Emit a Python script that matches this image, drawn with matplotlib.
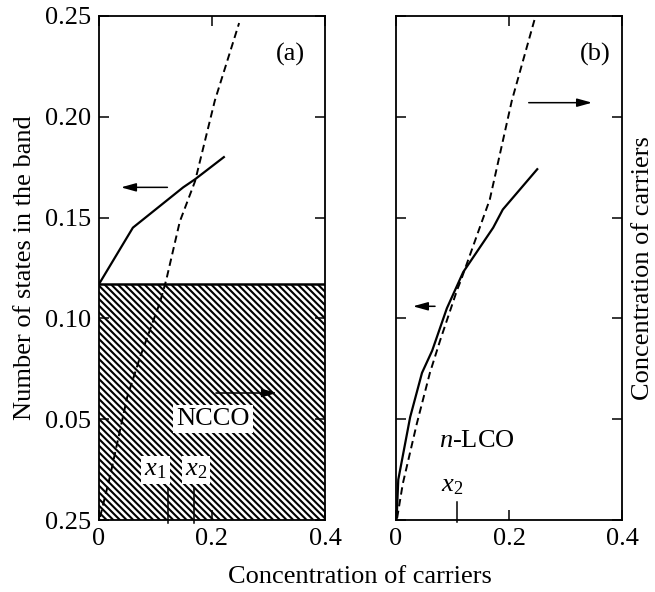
import numpy as np
import matplotlib.pyplot as plt
from matplotlib.ticker import FixedLocator, FixedFormatter

plt.rcParams['font.family'] = ['Liberation Serif', 'DejaVu Serif']
plt.rcParams['mathtext.fontset'] = 'custom'
plt.rcParams['mathtext.it'] = 'Liberation Serif:italic'
plt.rcParams['mathtext.rm'] = 'Liberation Serif'
plt.rcParams['hatch.linewidth'] = 1.5

# (a) NCCO
band_a_x = [0.0, 0.060, 0.149, 0.170, 0.221]
band_a_y = [0.117, 0.145, 0.165, 0.169, 0.180]
carr_a_x = [0.002, 0.019, 0.050, 0.073, 0.108, 0.119, 0.143, 0.170, 0.205, 0.248]
carr_a_y = [0.0015, 0.021, 0.061, 0.081, 0.108, 0.119, 0.148, 0.168, 0.208, 0.2465]
filled_level = 0.117
x1_a, x2_a = 0.122, 0.168

# (b) n-LCO
band_b_x = [0.001, 0.004, 0.025, 0.046, 0.064, 0.090, 0.119, 0.172, 0.189, 0.250]
band_b_y = [0.000, 0.020, 0.051, 0.073, 0.084, 0.105, 0.123, 0.145, 0.154, 0.174]
carr_b_x = [0.002, 0.012, 0.037, 0.060, 0.078, 0.108, 0.115, 0.166, 0.205, 0.245]
carr_b_y = [0.001, 0.018, 0.048, 0.073, 0.089, 0.114, 0.119, 0.159, 0.208, 0.248]
x2_b = 0.108

yticks = [0.0, 0.05, 0.10, 0.15, 0.20, 0.25]
ytick_labels = ['0.25', '0.05', '0.10', '0.15', '0.20', '0.25']
xticks = [0.0, 0.2, 0.4]
xtick_labels = ['0', '0.2', '0.4']

fs = 19
arrow_style = '-|>,head_length=0.9,head_width=0.25'
fig = plt.figure(figsize=(6.55, 5.92), dpi=100)
ax1 = fig.add_axes([0.1511, 0.1216, 0.3451, 0.8514])
ax2 = fig.add_axes([0.6046, 0.1216, 0.3450, 0.8514])

for ax in (ax1, ax2):
    ax.set_xlim(0, 0.4)
    ax.set_ylim(0, 0.25)
    ax.xaxis.set_major_locator(FixedLocator(xticks))
    ax.xaxis.set_major_formatter(FixedFormatter(xtick_labels))
    ax.yaxis.set_major_locator(FixedLocator(yticks))
    ax.tick_params(direction='in', length=7, width=1.1, top=True, right=True,
                   labelsize=fs, pad=6)
    for sp in ax.spines.values():
        sp.set_linewidth(1.3)

ax1.yaxis.set_major_formatter(FixedFormatter(ytick_labels))
ax2.tick_params(labelleft=False)

# panel (a)
ax1.fill_between([0, 0.4], 0, filled_level, facecolor='white', edgecolor='k',
                 hatch='\\\\\\\\\\', linewidth=0, zorder=1)
ax1.axhline(filled_level, color='k', lw=1.8, zorder=2)
ax1.plot(band_a_x, band_a_y, 'k-', lw=1.6, zorder=3)
ax1.plot(carr_a_x, carr_a_y, 'k', lw=1.4, dashes=(3.8, 2.3), zorder=3)
ax1.annotate('', xy=(0.034, 0.165), xytext=(0.126, 0.165),
             arrowprops=dict(arrowstyle=arrow_style, color='k', lw=1.1))
ax1.annotate('', xy=(0.320, 0.063), xytext=(0.202, 0.063),
             arrowprops=dict(arrowstyle=arrow_style, color='k', lw=1.1))
box = dict(facecolor='white', edgecolor='none', pad=2)
ax1.text(0.202, 0.050, 'NCCO', fontsize=fs, ha='center', va='center', bbox=box, zorder=4)
ax1.text(0.100, 0.025, '$x_1$', fontsize=fs, ha='center', va='center', bbox=box, zorder=4)
ax1.text(0.172, 0.025, '$x_2$', fontsize=fs, ha='center', va='center', bbox=box, zorder=4)
ax1.plot([x1_a, x1_a], [-0.0015, 0.016], 'k-', lw=1.1, clip_on=False, zorder=4)
ax1.plot([x2_a, x2_a], [-0.0015, 0.016], 'k-', lw=1.1, clip_on=False, zorder=4)
ax1.text(0.338, 0.231, '(a)', fontsize=fs, ha='center', va='center')
ax1.set_ylabel('Number of states in the band', fontsize=fs, labelpad=6)

# panel (b)
ax2.plot(band_b_x, band_b_y, 'k-', lw=1.6)
ax2.plot(carr_b_x, carr_b_y, 'k', lw=1.4, dashes=(3.8, 2.3))
ax2.annotate('', xy=(0.025, 0.106), xytext=(0.074, 0.106),
             arrowprops=dict(arrowstyle=arrow_style, color='k', lw=1.1))
ax2.annotate('', xy=(0.352, 0.207), xytext=(0.230, 0.207),
             arrowprops=dict(arrowstyle=arrow_style, color='k', lw=1.1))
ax2.text(0.143, 0.039, '$n$-LCO', fontsize=fs, ha='center', va='center')
ax2.text(0.099, 0.017, '$x_2$', fontsize=fs, ha='center', va='center')
ax2.plot([x2_b, x2_b], [-0.001, 0.009], 'k-', lw=1.1, clip_on=False)
ax2.text(0.352, 0.231, '(b)', fontsize=fs, ha='center', va='center')
ax2.yaxis.set_label_position('right')
ax2.set_ylabel('Concentration of carriers', fontsize=fs, labelpad=7)

fig.text(0.55, 0.025, 'Concentration of carriers', fontsize=fs, ha='center', va='center')

fig.savefig('out.png', dpi=100)
